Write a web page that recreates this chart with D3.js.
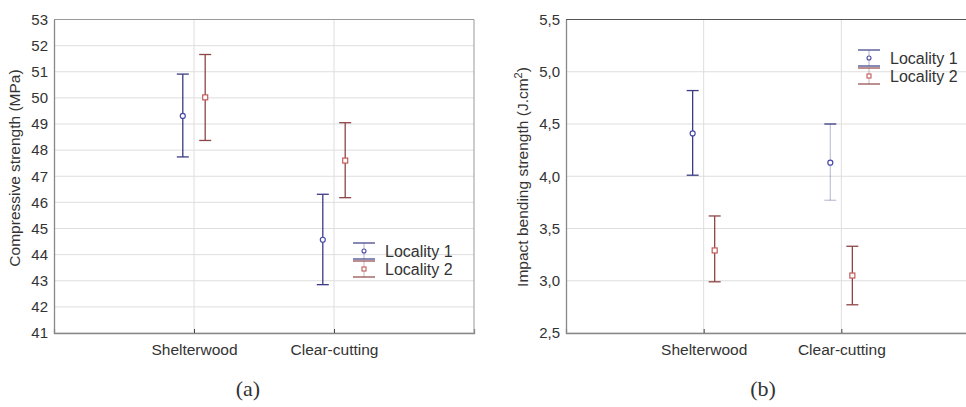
<!DOCTYPE html>
<html>
<head>
<meta charset="utf-8">
<script src="https://cdn.jsdelivr.net/npm/d3@7/dist/d3.min.js"></script>
<style>
  html, body { margin: 0; padding: 0; background: #fff; }
  svg { display: block; }
  text { font-family: "Liberation Sans", Arial, sans-serif; fill: #333; }
</style>
</head>
<body>
<svg id="chart" width="966" height="407"></svg>
<script>
// Treatment groups on the x axis
const categories = ["Shelterwood", "Clear-cutting"];
const localities = ["Locality 1", "Locality 2"];

// (a) Compressive strength (MPa): means with confidence limits
const compMean  = [[49.31, 44.57], [50.02, 47.60]];
const compLow   = [[47.74, 42.85], [48.37, 46.18]];
const compHigh  = [[50.91, 46.31], [51.66, 49.05]];
const compTicks = [41, 42, 43, 44, 45, 46, 47, 48, 49, 50, 51, 52, 53];

// (b) Impact bending strength (J.cm²): means with confidence limits
const impMean  = [[4.41, 4.13], [3.29, 3.05]];
const impLow   = [[4.01, 3.77], [2.99, 2.77]];
const impHigh  = [[4.82, 4.50], [3.62, 3.33]];
const impTicks = [2.5, 3.0, 3.5, 4.0, 4.5, 5.0, 5.5];

const colors = ["#3b3b86", "#8e4545"];
const markerColors = ["#4848a8", "#c25a5a"];

const svg = d3.select("#chart");
const commaFmt = d => d3.format(".1f")(d).replace(".", ",");

function panel(opts) {
  const g = svg.append("g");
  const x = d3.scaleLinear().domain([0, 3]).range([opts.left, opts.right]);
  const y = d3.scaleLinear().domain(opts.domain).range([opts.bottom, opts.top]);
  const offset = 0.08;

  // horizontal grid
  g.append("g").selectAll("line").data(opts.ticks).join("line")
    .attr("x1", opts.left).attr("x2", opts.right)
    .attr("y1", d => y(d)).attr("y2", d => y(d))
    .attr("stroke", "#dedede").attr("stroke-width", 1);
  // vertical grid at categories
  g.append("g").selectAll("line").data(categories).join("line")
    .attr("x1", (d, i) => x(i + 1)).attr("x2", (d, i) => x(i + 1))
    .attr("y1", opts.top).attr("y2", opts.bottom)
    .attr("stroke", "#dedede").attr("stroke-width", 1);

  // frame
  g.append("line").attr("x1", opts.left).attr("x2", opts.right)
    .attr("y1", opts.top).attr("y2", opts.top)
    .attr("stroke", opts.topColor).attr("stroke-width", 1.2);
  g.append("line").attr("x1", opts.right).attr("x2", opts.right)
    .attr("y1", opts.top).attr("y2", opts.bottom)
    .attr("stroke", "#999").attr("stroke-width", 1);

  // y axis
  const yAxis = d3.axisLeft(y).tickValues(opts.ticks).tickSize(0).tickPadding(6)
    .tickFormat(opts.format);
  const ya = g.append("g").attr("transform", `translate(${opts.left},0)`).call(yAxis);
  ya.select(".domain").attr("stroke", "#888").attr("stroke-width", 1.3);
  ya.selectAll("text").attr("font-size", 15).attr("fill", "#333")
    .attr("font-family", "Liberation Sans, Arial, sans-serif");

  // x axis
  const xAxis = d3.axisBottom(x).tickValues([1, 2]).tickSize(-4).tickPadding(11)
    .tickFormat(d => categories[d - 1]);
  const xa = g.append("g").attr("transform", `translate(0,${opts.bottom})`).call(xAxis);
  xa.select(".domain").attr("stroke", "#888").attr("stroke-width", 1.3);
  xa.selectAll(".tick line").attr("stroke", "#444");
  xa.selectAll("text").attr("font-size", 15.5).attr("fill", "#333")
    .attr("font-family", "Liberation Sans, Arial, sans-serif");

  // y title
  g.append("text")
    .attr("transform", `translate(${opts.titleX},${opts.titleY}) rotate(-90)`)
    .attr("text-anchor", "middle").attr("font-size", 15.5)
    .html(opts.title);

  // error bars
  const cap = 6;
  localities.forEach((loc, s) => {
    categories.forEach((cat, c) => {
      const cx = x(c + 1 + (s === 0 ? -offset : offset));
      const faint = opts.faint && opts.faint[s][c];
      const eg = g.append("g");
      eg.append("line").attr("x1", cx).attr("x2", cx)
        .attr("y1", y(opts.low[s][c])).attr("y2", y(opts.high[s][c]))
        .attr("stroke", colors[s]).attr("stroke-width", 1.3)
        .attr("stroke-opacity", faint ? 0.3 : 1);
      eg.append("line").attr("x1", cx - cap).attr("x2", cx + cap)
        .attr("y1", y(opts.high[s][c])).attr("y2", y(opts.high[s][c]))
        .attr("stroke", colors[s]).attr("stroke-width", 1.3);
      eg.append("line").attr("x1", cx - cap).attr("x2", cx + cap)
        .attr("y1", y(opts.low[s][c])).attr("y2", y(opts.low[s][c]))
        .attr("stroke", colors[s]).attr("stroke-width", 1.3)
        .attr("stroke-opacity", faint ? 0.3 : 1);
      if (s === 0) {
        eg.append("circle").attr("cx", cx).attr("cy", y(opts.mean[s][c])).attr("r", 2.5)
          .attr("fill", "#fff").attr("stroke", markerColors[s]).attr("stroke-width", 1.2);
      } else {
        eg.append("rect").attr("x", cx - 2.5).attr("y", y(opts.mean[s][c]) - 2.5)
          .attr("width", 5).attr("height", 5)
          .attr("fill", "#fff").attr("stroke", markerColors[s]).attr("stroke-width", 1.2);
      }
    });
  });

  // legend
  const lg = g.append("g").attr("transform", `translate(${opts.legendX},${opts.legendY})`);
  localities.forEach((loc, s) => {
    const ry = s * 18;
    lg.append("line").attr("x1", 0).attr("x2", 22).attr("y1", ry - 8).attr("y2", ry - 8)
      .attr("stroke", colors[s]).attr("stroke-width", 1.2);
    lg.append("line").attr("x1", 0).attr("x2", 22).attr("y1", ry + 8).attr("y2", ry + 8)
      .attr("stroke", colors[s]).attr("stroke-width", 1.2);
    lg.append("line").attr("x1", 11).attr("x2", 11).attr("y1", ry - 8).attr("y2", ry + 8)
      .attr("stroke", colors[s]).attr("stroke-width", 0.8).attr("stroke-opacity", 0.5);
    if (s === 0) {
      lg.append("circle").attr("cx", 11).attr("cy", ry).attr("r", 2)
        .attr("fill", "#fff").attr("stroke", markerColors[s]).attr("stroke-width", 1.1);
    } else {
      lg.append("rect").attr("x", 9).attr("y", ry - 2).attr("width", 4).attr("height", 4)
        .attr("fill", "#fff").attr("stroke", markerColors[s]).attr("stroke-width", 1.1);
    }
    lg.append("text").attr("x", 32).attr("y", ry + 5.5).attr("font-size", 16).text(loc);
  });

  // panel caption
  svg.append("text").attr("x", opts.captionX).attr("y", 396)
    .attr("text-anchor", "middle").attr("font-size", 22)
    .style("font-family", "'Liberation Serif', 'DejaVu Serif', serif")
    .text(opts.caption);
}

panel({
  left: 54, right: 474, top: 19.5, bottom: 333,
  domain: [41, 53], ticks: compTicks, format: d3.format("d"),
  mean: compMean, low: compLow, high: compHigh,
  title: "Compressive strength (MPa)", titleX: 20, titleY: 168,
  legendX: 353, legendY: 251, topColor: "#999",
  caption: "(a)", captionX: 248
});

panel({
  left: 566, right: 979, top: 19.5, bottom: 333,
  domain: [2.5, 5.5], ticks: impTicks, format: commaFmt,
  mean: impMean, low: impLow, high: impHigh,
  faint: [[false, true], [false, false]],
  title: "Impact bending strength (J.cm<tspan baseline-shift='super' font-size='11'>2</tspan>)",
  titleX: 528, titleY: 177,
  legendX: 858, legendY: 58, topColor: "#555",
  caption: "(b)", captionX: 763
});
</script>
</body>
</html>
